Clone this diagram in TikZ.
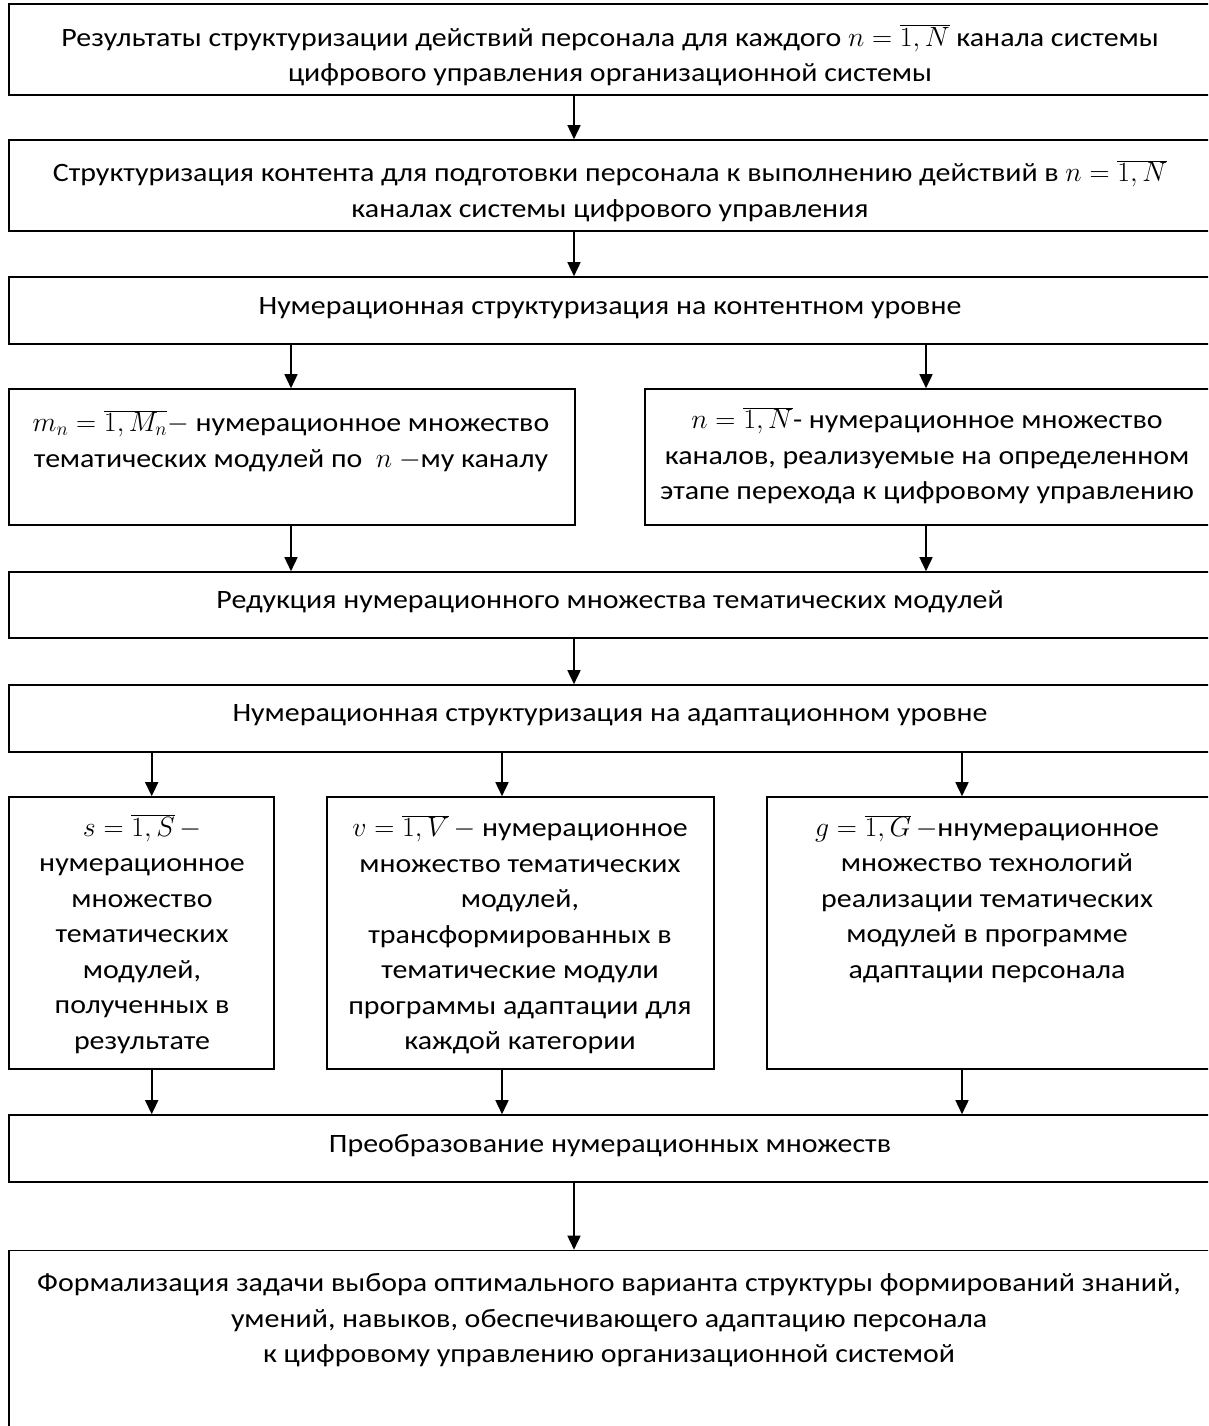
\documentclass[tikz,border=0pt]{standalone}
\usepackage{fontspec}
\setmainfont[FakeStretch=1.13]{Carlito}
\newcommand{\mathpart}[1]{\scalebox{1.12}{$#1$}}
\usetikzlibrary{arrows.meta}
\begin{document}
\begin{tikzpicture}[x=1pt, y=-1pt, line width=1.6pt,
block node/.style={rectangle,draw,inner sep=0pt},
text node/.style={align=center,inner sep=0pt,font=\fontsize{26.5}{35.5}\selectfont},
arrow line/.style={-{Triangle[length=14pt,width=13pt]}}]
\useasboundingbox (0,0) rectangle (1208,1426);
\clip (0,0) rectangle (1208,1426);
% boxes
\begin{scope}
\node[block node, minimum width=1201pt, minimum height=91pt] (b1) at (609.5,49.5) {};
\node[block node, minimum width=1201pt, minimum height=91pt] (b2) at (609.5,185.5) {};
\node[block node, minimum width=1201pt, minimum height=67pt] (b3) at (609.5,310.5) {};
\node[block node, minimum width=566pt, minimum height=136pt] (b4l) at (292,457) {};
\node[block node, minimum width=565pt, minimum height=136pt] (b4r) at (927.5,457) {};
\node[block node, minimum width=1201pt, minimum height=66pt] (b5) at (609.5,605) {};
\node[block node, minimum width=1201pt, minimum height=67pt] (b6) at (609.5,718.5) {};
\node[block node, minimum width=265pt, minimum height=272pt] (b7a) at (141.5,933) {};
\node[block node, minimum width=387pt, minimum height=272pt] (b7b) at (520.5,933) {};
\node[block node, minimum width=443pt, minimum height=272pt] (b7c) at (988.5,933) {};
\node[block node, minimum width=1201pt, minimum height=67pt] (b8) at (609.5,1148.5) {};
\node[block node, minimum width=1201pt, minimum height=200pt] (b9) at (609.5,1350.5) {};
\end{scope}
% texts
\begin{scope}[every node/.style={text node}]
\node (t1) at (610,55.5) {Результаты структуризации действий персонала для каждого \mathpart{n=\overline{1,N}} канала системы\\цифрового управления организационной системы};
\node (t2) at (610,191) {Структуризация контента для подготовки персонала к выполнению действий в \mathpart{n=\overline{1,N}}\\каналах системы цифрового управления};
\node (t3) at (610,308) {Нумерационная структуризация на контентном уровне};
\node (t4l) at (291,441) {\mathpart{m_n=\overline{1,M_n}-} нумерационное множество\\тематических модулей по~ \mathpart{n} \mathpart{-}му каналу};
\node (t4r) at (927,456) {\mathpart{n=\overline{1,N}}- нумерационное множество\\каналов, реализуемые на определенном\\этапе перехода к цифровому управлению};
\node (t5) at (610,602) {Редукция нумерационного множества тематических модулей};
\node (t6) at (610,715) {Нумерационная структуризация на адаптационном уровне};
\node (t7a) at (142,934) {\mathpart{s=\overline{1,S}\,-}\\нумерационное\\множество\\тематических\\модулей,\\полученных в\\результате};
\node (t7b) at (520,935) {\mathpart{v=\overline{1,V}\,-} нумерационное\\множество тематических\\модулей,\\трансформированных в\\тематические модули\\программы адаптации для\\каждой категории};
\node (t7c) at (987,899) {\mathpart{g=\overline{1,G}\,-}ннумерационное\\множество технологий\\реализации тематических\\модулей в программе\\адаптации персонала};
\node (t8) at (610,1146) {Преобразование нумерационных множеств};
\node (t9) at (609,1320.5) {Формализация задачи выбора оптимального варианта структуры формирований знаний,\\умений, навыков, обеспечивающего адаптацию персонала\\к цифровому управлению организационной системой};
\end{scope}
% arrows
\coordinate (xm) at (574,0);
\coordinate (xl) at (291,0);
\coordinate (xr) at (926,0);
\coordinate (xa) at (151.7,0);
\coordinate (xb) at (502,0);
\coordinate (xc) at (962,0);
\begin{scope}[every path/.style={arrow line}]
\draw (b1.south -| xm) -- (b2.north -| xm);
\draw (b2.south -| xm) -- (b3.north -| xm);
\draw (b3.south -| xl) -- (b4l.north -| xl);
\draw (b3.south -| xr) -- (b4r.north -| xr);
\draw (b4l.south -| xl) -- (b5.north -| xl);
\draw (b4r.south -| xr) -- (b5.north -| xr);
\draw (b5.south -| xm) -- (b6.north -| xm);
\draw (b6.south -| xa) -- (b7a.north -| xa);
\draw (b6.south -| xb) -- (b7b.north -| xb);
\draw (b6.south -| xc) -- (b7c.north -| xc);
\draw (b7a.south -| xa) -- (b8.north -| xa);
\draw (b7b.south -| xb) -- (b8.north -| xb);
\draw (b7c.south -| xc) -- (b8.north -| xc);
\draw (b8.south -| xm) -- (b9.north -| xm);
\end{scope}
\end{tikzpicture}
\end{document}
